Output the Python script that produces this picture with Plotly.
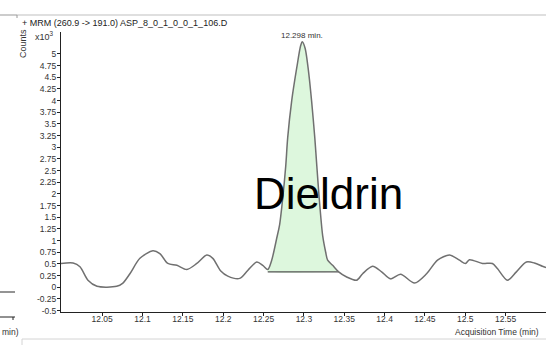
import plotly.graph_objects as go

# MRM chromatogram (counts x10^3) vs acquisition time (min)
time_min = [11.999, 12.014, 12.0225, 12.0324, 12.0436, 12.068, 12.0757, 12.0844, 12.0968,
            12.1129, 12.1215, 12.1314, 12.1426, 12.1549, 12.1673, 12.1797, 12.1871, 12.197,
            12.2057, 12.2205, 12.2304, 12.2416, 12.249, 12.2552, 12.2601, 12.2663, 12.270,
            12.2737, 12.2775, 12.2799, 12.2849, 12.2911, 12.296, 12.298, 12.3015, 12.3052,
            12.3095, 12.3135, 12.316, 12.319, 12.3233, 12.327, 12.3294, 12.3356, 12.3431,
            12.353, 12.3653, 12.3728, 12.3851, 12.3963, 12.4074, 12.4198, 12.4371, 12.452,
            12.4656, 12.4804, 12.4928, 12.5002, 12.5052, 12.5213, 12.5336, 12.5398, 12.5522,
            12.5633, 12.5757, 12.5856, 12.5955, 12.6]
counts = [0.51, 0.52, 0.44, 0.15, 0.02, 0.02, 0.09, 0.29, 0.62,
          0.78, 0.72, 0.51, 0.47, 0.38, 0.51, 0.69, 0.62, 0.35,
          0.24, 0.19, 0.36, 0.54, 0.47, 0.38, 0.58, 1.05, 1.35,
          1.9, 2.6, 3.2, 4.0, 4.7, 5.18, 5.26, 5.12, 4.7,
          4.0, 3.2, 2.6, 1.9, 1.1, 0.75, 0.58, 0.47, 0.33,
          0.22, 0.15, 0.29, 0.45, 0.33, 0.18, 0.28, 0.09, 0.29,
          0.58, 0.69, 0.58, 0.51, 0.59, 0.51, 0.51, 0.40, 0.15,
          0.33, 0.54, 0.52, 0.45, 0.42]

# integrated peak: start/end of the drawn baseline
peak_start, peak_end = 12.2552, 12.3431
peak_base = [0.33, 0.33]
peak_rt = 12.298
peak_name = "Dieldrin"

x_ticks = [12.05, 12.1, 12.15, 12.2, 12.25, 12.3, 12.35, 12.4, 12.45, 12.5, 12.55]
x_tick_text = ["12.05", "12.1", "12.15", "12.2", "12.25", "12.3", "12.35", "12.4", "12.45", "12.5", "12.55"]
y_ticks = [-0.5, -0.25, 0, 0.25, 0.5, 0.75, 1, 1.25, 1.5, 1.75, 2, 2.25, 2.5, 2.75, 3,
           3.25, 3.5, 3.75, 4, 4.25, 4.5, 4.75, 5]
y_tick_text = ["-0.5", "-0.25", "0", "0.25", "0.5", "0.75", "1", "1.25", "1.5", "1.75", "2",
               "2.25", "2.5", "2.75", "3", "3.25", "3.5", "3.75", "4", "4.25", "4.5", "4.75", "5"]

W, H = 546, 345
L, R, T, B = 61, 0, 32, 33
PW, PH = W - L - R, H - T - B


def px(x):
    return (x - L) / PW


def py(y):
    return (H - B - y) / PH


FONT = "Liberation Sans, Arial, sans-serif"
TXT = "#333333"

peak_t = [t for t in time_min if peak_start <= t <= peak_end]
peak_c = [c for t, c in zip(time_min, counts) if peak_start <= t <= peak_end]
fill_x = peak_t + [peak_end, peak_start, peak_start]
fill_y = peak_c + [peak_base[1], peak_base[0], peak_c[0]]

fig = go.Figure()
fig.add_trace(go.Scatter(
    x=fill_x, y=fill_y, mode="lines", fill="toself", fillcolor="#ddf7dd",
    line=dict(color="rgba(0,0,0,0)", width=0, shape="spline", smoothing=0.6),
    hoverinfo="skip", showlegend=False))
fig.add_trace(go.Scatter(
    x=[peak_start, peak_end], y=peak_base, mode="lines",
    line=dict(color="#555555", width=1.2), showlegend=False))
fig.add_trace(go.Scatter(
    x=time_min, y=counts, mode="lines",
    line=dict(color="#707070", width=1.5, shape="spline", smoothing=0.8),
    showlegend=False))

axis_common = dict(showgrid=False, zeroline=False, showline=True, linecolor="#222222",
                   linewidth=1, ticks="outside", ticklen=3, tickcolor="#222222",
                   tickfont=dict(family=FONT, size=8.5, color=TXT))
fig.update_xaxes(range=[11.999, 12.6], tickvals=x_ticks, ticktext=x_tick_text,
                 ticklabelstandoff=-4, **axis_common)
fig.update_yaxes(range=[-0.53, 5.47], tickvals=y_ticks, ticktext=y_tick_text,
                 ticklabelstandoff=-1, **axis_common)

ann = [
    dict(x=px(20), y=py(23), xref="paper", yref="paper", xanchor="left", yanchor="middle",
         text="+ MRM (260.9 -> 191.0) ASP_8_0_1_0_0_1_106.D",
         font=dict(family=FONT, size=9, color="#222222")),
    dict(x=px(23), y=py(44), xref="paper", yref="paper", xanchor="center", yanchor="middle",
         text="Counts", textangle=-90, font=dict(family=FONT, size=9, color=TXT)),
    dict(x=px(44), y=py(36), xref="paper", yref="paper", xanchor="center", yanchor="middle",
         text="x10<sup>3</sup>", font=dict(family=FONT, size=9, color=TXT)),
    dict(x=px(541), y=py(332), xref="paper", yref="paper", xanchor="right", yanchor="middle",
         text="Acquisition Time (min)", font=dict(family=FONT, size=8.5, color=TXT)),
    dict(x=px(0), y=py(332), xref="paper", yref="paper", xanchor="left", yanchor="middle",
         text="min)", font=dict(family=FONT, size=8.5, color=TXT)),
    dict(x=peak_rt, y=max(counts), xref="x", yref="y", xanchor="center", yanchor="bottom",
         yshift=0, text=f"{peak_rt:.3f} min.", font=dict(family=FONT, size=8, color=TXT)),
    dict(x=12.331, y=2.02, xref="x", yref="y", xanchor="center", yanchor="middle",
         text=peak_name, font=dict(family=FONT, size=44, color="#000000")),
]
for a in ann:
    a["showarrow"] = False
fig.update_layout(annotations=ann)

shapes = [
    # window frame lines
    dict(type="line", x0=px(17), x1=px(546), y0=py(15), y1=py(15), line=dict(color="#d4d4d4", width=1.5)),
    dict(type="line", x0=px(0), x1=px(17), y0=py(15), y1=py(15), line=dict(color="#999999", width=1)),
    dict(type="line", x0=px(17), x1=px(17), y0=py(15), y1=py(18), line=dict(color="#999999", width=1)),
    dict(type="line", x0=px(22), x1=px(546), y0=py(339), y1=py(339), line=dict(color="#d4d4d4", width=1)),
    dict(type="line", x0=px(22), x1=px(22), y0=py(339), y1=py(345), line=dict(color="#d4d4d4", width=1)),
    # edge of the neighbouring panel
    dict(type="line", x0=px(0), x1=px(15), y0=py(292), y1=py(292), line=dict(color="#707070", width=1.5)),
    dict(type="line", x0=px(0), x1=px(15), y0=py(317), y1=py(317), line=dict(color="#222222", width=1)),
    dict(type="line", x0=px(13), x1=px(13), y0=py(317), y1=py(320), line=dict(color="#222222", width=1)),
]
for s in shapes:
    s["xref"] = "paper"
    s["yref"] = "paper"
fig.update_layout(shapes=shapes)

fig.update_layout(width=W, height=H, margin=dict(l=L, r=R, t=T, b=B),
                  paper_bgcolor="white", plot_bgcolor="white")
fig.write_html("out.html")
